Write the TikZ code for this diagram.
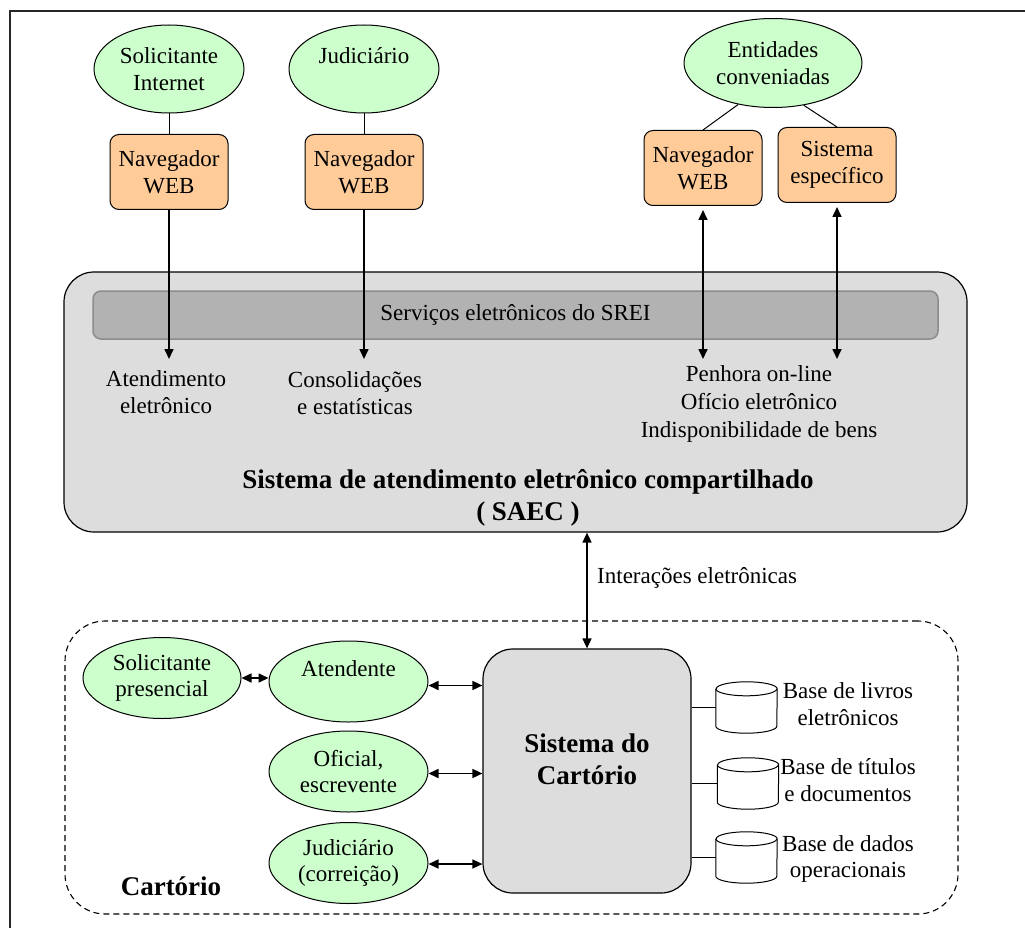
\documentclass[tikz,border=0pt]{standalone}
\usepackage{fontspec}
\setmainfont{Liberation Serif}
\newfontfamily\diagfont{Liberation Serif}
\usetikzlibrary{shapes.geometric,arrows.meta}
\definecolor{actorfill}{HTML}{CCFFCC}
\definecolor{clientfill}{HTML}{FFCC99}
\definecolor{sysfill}{HTML}{DDDDDD}
\definecolor{barfill}{HTML}{B2B2B2}
\definecolor{barline}{HTML}{8C8C8C}
\begin{document}
\begin{tikzpicture}[x=1pt,y=1pt,
  font=\diagfont\fontsize{23}{26.5}\selectfont,
  actor/.style={ellipse,draw,line width=1pt,fill=actorfill,inner sep=0pt,align=center},
  client/.style={rectangle,rounded corners=9pt,draw,line width=1pt,fill=clientfill,
    minimum width=118,minimum height=75,inner sep=0pt,align=center},
  sysbox/.style={rectangle,rounded corners=30pt,draw,line width=1.2pt,fill=sysfill,inner sep=0pt},
  bar/.style={rectangle,rounded corners=8pt,draw=barline,line width=1.5pt,fill=barfill,
    minimum width=845,minimum height=48,inner sep=0pt},
  region/.style={rectangle,rounded corners=40pt,draw,dash pattern=on 6pt off 4pt,line width=1.1pt,inner sep=0pt},
  svc/.style={align=center,inner sep=0pt},
  heading/.style={font=\diagfont\fontsize{27}{32}\selectfont\bfseries,align=center,inner sep=0pt},
  dbnode/.style={rectangle,minimum width=61,minimum height=51,inner sep=0pt},
  cyl/.style={draw,line width=1pt,fill=white},
  tie/.style={line width=1pt},
  link/.style={line width=1.6pt},
  flow/.style={line width=1.6pt,-{Triangle[length=10pt,width=9pt]}},
  dflow/.style={line width=1.6pt,{Triangle[length=10pt,width=9pt]}-{Triangle[length=10pt,width=9pt]}}]

\useasboundingbox (0,0) rectangle (1025,-928);

% page frame (top and left edges)
\draw[line width=1.6pt,black!85] (10,-928) -- (10,-11) -- (1025,-11);

% external actors and their clients
\node[actor,minimum width=150,minimum height=88] (sol) at (169,-69) {Solicitante\\Internet};
\node[actor,minimum width=150,minimum height=88] (jud) at (364,-69) {Judiciário\\\mbox{}};
\node[actor,minimum width=178,minimum height=89] (ent) at (773,-63) {Entidades\\conveniadas};

\node[client] (nav1) at (169,-172) {Navegador\\WEB};
\node[client] (nav2) at (364,-172) {Navegador\\WEB};
\node[client] (nav3) at (703,-168) {Navegador\\WEB};
\node[client] (spec) at (837,-165) {Sistema\\específico};

\draw[tie] (sol.south) -- (nav1.north);
\draw[tie] (jud.south) -- (nav2.north);
\draw[tie] (ent.230) -- (nav3.north);
\draw[tie] (ent.306) -- (spec.north);

% shared electronic service system
\node[sysbox,minimum width=903,minimum height=260] (saec) at (515.5,-402) {};
\node[bar] (srei) at (515.5,-315) {Serviços eletrônicos do SREI};

\node[svc] (atel) at (166,-392) {Atendimento\\eletrônico};
\node[svc] (cons) at (355,-393) {Consolidações\\e estatísticas};
\node[svc,font=\diagfont\fontsize{23}{28}\selectfont] (penh) at (759,-404) {Penhora on-line\\Ofício eletrônico\\Indisponibilidade de bens};
\node[heading] (saectit) at (528,-498) {Sistema de atendimento eletrônico compartilhado\\( SAEC )};

\coordinate (svcline) at (0,-359);
\draw[flow] (nav1.south) -- (nav1.south |- svcline);
\draw[flow] (nav2.south) -- (nav2.south |- svcline);
\draw[dflow,shorten <=4pt] (nav3.south) -- (nav3.south |- svcline);
\draw[dflow,shorten <=4pt] (spec.south) -- (spec.south |- svcline);

% registry office
\node[region,minimum width=893,minimum height=293] (cart) at (511.5,-767.5) {};
\node[heading] (cartlbl) at (171,-886) {Cartório};

\node[sysbox,minimum width=208,minimum height=244] (sc) at (587,-771) {};
\node[heading] (sctxt) at (587,-759) {Sistema do\\Cartório};

\draw[dflow] (sc.north |- saec.south) -- (sc.north);
\node[anchor=west,inner sep=0pt] (inter) at (597,-578) {Interações eletrônicas};

\node[actor,minimum width=158,minimum height=81] (pres) at (162,-678) {Solicitante\\presencial};
\node[actor,minimum width=159,minimum height=81] (aten) at (348.5,-681.5) {Atendente\\\mbox{}};
\node[actor,minimum width=159,minimum height=81] (ofic) at (348.5,-771.5) {Oficial,\\escrevente};
\node[actor,minimum width=159,minimum height=81] (jcor) at (348.5,-863) {Judiciário\\(correição)};

\draw[dflow] (pres.east) -- (pres.east -| aten.west);
\draw[dflow] ([yshift=-4pt]aten.east) -- ([yshift=-4pt]aten.east -| sc.west);
\draw[dflow] ([yshift=-2pt]ofic.east) -- ([yshift=-2pt]ofic.east -| sc.west);
\draw[dflow] ([yshift=-1pt]jcor.east) -- ([yshift=-1pt]jcor.east -| sc.west);

% databases
\node[dbnode] (db1) at (746.5,-707.5) {};
\node[dbnode] (db2) at (748,-783.5) {};
\node[dbnode] (db3) at (746.5,-857.5) {};
\foreach \d in {db1,db2,db3}{
  \draw[cyl] ([yshift=-7pt]\d.north west) -- ([yshift=7pt]\d.south west)
    arc[start angle=180,end angle=360,x radius=30.5pt,y radius=7pt]
    -- ([yshift=-7pt]\d.north east)
    arc[start angle=0,end angle=180,x radius=30.5pt,y radius=7pt];
  \draw[line width=1pt] ([yshift=-7pt]\d.north west)
    arc[start angle=180,end angle=360,x radius=30.5pt,y radius=7pt];
  \draw[link] (\d.west -| sc.east) -- (\d.west);
}

\node[svc] (lb1) at (848,-704) {Base de livros\\eletrônicos};
\node[svc] (lb2) at (848,-780) {Base de títulos\\e documentos};
\node[svc] (lb3) at (848,-859) {Base de dados\\operacionais};

\end{tikzpicture}
\end{document}
